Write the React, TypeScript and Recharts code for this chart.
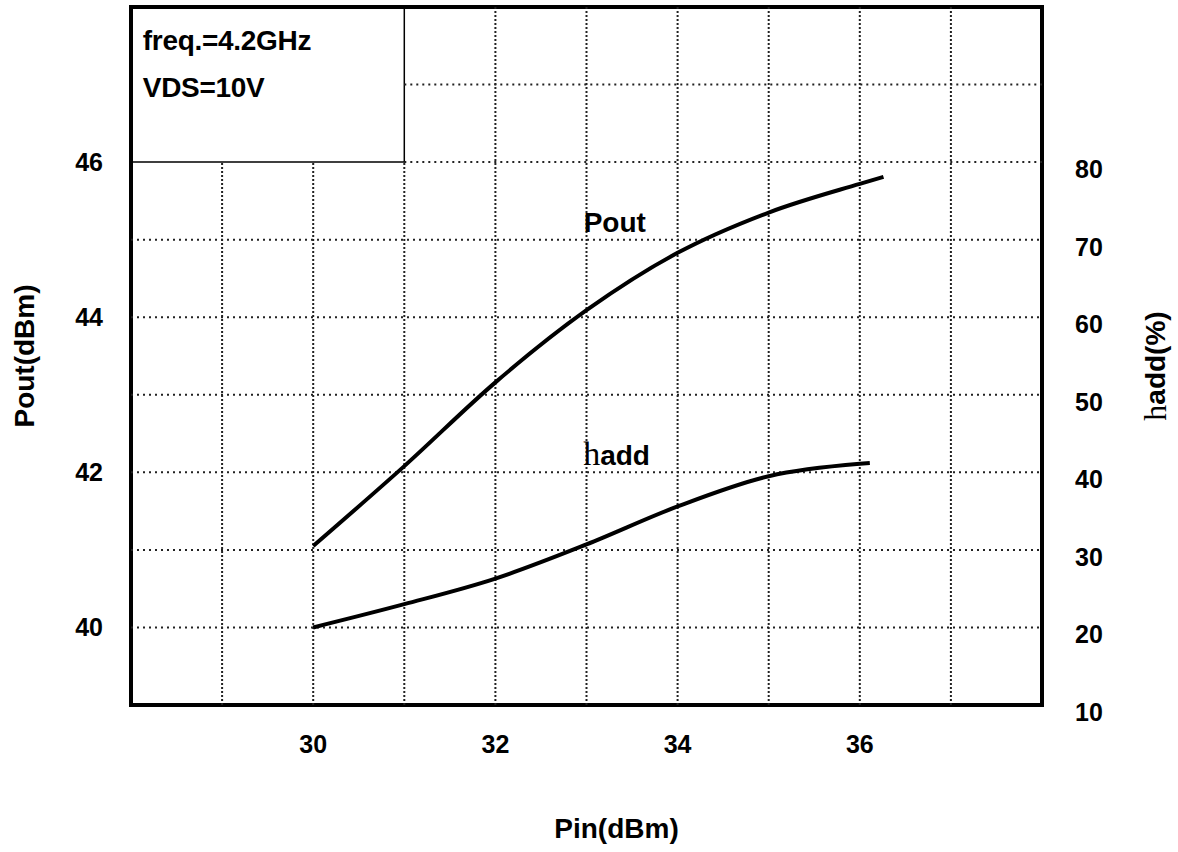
import { Line, LineChart, ReferenceArea, ReferenceDot, ReferenceLine, XAxis, YAxis } from "recharts";

// Pout vs Pin
const pinPout = [30, 31, 32, 33, 34, 35, 36, 36.26];
const poutDbm = [41.05, 42.08, 43.16, 44.09, 44.83, 45.35, 45.72, 45.81];

// added efficiency vs Pin (right axis, %)
const pinEta = [30, 31, 32, 33, 34, 35, 36, 36.11];
const etaAdd = [20.0, 23.0, 26.3, 30.7, 35.6, 39.5, 41.1, 41.2];

const xTicks = [30, 32, 34, 36];
const poutTicks = [40, 42, 44, 46];
const etaTicks = [10, 20, 30, 40, 50, 60, 70, 80];
const xGrid = [29, 30, 31, 32, 33, 34, 35, 36, 37];
const yGrid = [40, 41, 42, 43, 44, 45, 46, 47];
const notes = ["freq.=4.2GHz", "VDS=10V"];

// the note box sits in the top-left corner, grid lines stop at it
const boxX = [28, 31];
const boxY = [46, 48];

const SANS = "'Liberation Sans', Arial, Helvetica, sans-serif";
const SERIF = "'Liberation Serif', 'Times New Roman', serif";

const poutRows = pinPout.map((pin, i) => ({ pin, pout: poutDbm[i] }));
const etaRows = pinEta.map((pin, i) => ({ pin, eta: etaAdd[i] }));

const txt = { fontFamily: SANS, fontWeight: 700, fill: "#000" };

function LeftTick(p: any) {
  return (
    <text x={p.x} y={p.y} textAnchor="end" dominantBaseline="central" fontSize={25} {...txt}>
      {p.payload.value}
    </text>
  );
}

function RightTick(p: any) {
  return (
    <text x={p.x} y={p.y + 7} textAnchor="start" dominantBaseline="central" fontSize={25} {...txt}>
      {p.payload.value}
    </text>
  );
}

function BottomTick(p: any) {
  return (
    <text x={p.x} y={p.y} textAnchor="middle" fontSize={25} {...txt}>
      {p.payload.value}
    </text>
  );
}

export default function App() {
  return (
    <div style={{ position: "absolute", left: 0, top: 0, background: "#fff" }}>
      <LineChart width={1178} height={852} margin={{ top: 7, right: 0, bottom: 0, left: 0 }}>
        <XAxis
          dataKey="pin"
          type="number"
          domain={[28, 38]}
          ticks={xTicks}
          height={147}
          axisLine={false}
          tickLine={false}
          tickSize={0}
          tickMargin={48}
          tick={BottomTick}
          allowDataOverflow
          label={(props: any) => {
            const vb = props.viewBox;
            return (
              <text x={vb.x + vb.width / 2 + 30} y={vb.y + 133} textAnchor="middle" fontSize={28} {...txt}>
                Pin(dBm)
              </text>
            );
          }}
        />
        <YAxis
          yAxisId="left"
          type="number"
          domain={[39, 48]}
          ticks={poutTicks}
          width={131}
          axisLine={false}
          tickLine={false}
          tickSize={0}
          tickMargin={28}
          tick={LeftTick}
          allowDataOverflow
          label={(props: any) => {
            const vb = props.viewBox;
            const cx = vb.x + 24;
            const cy = vb.y + vb.height / 2;
            return (
              <text
                x={cx}
                y={cy}
                transform={`rotate(-90 ${cx} ${cy})`}
                textAnchor="middle"
                dominantBaseline="central"
                fontSize={28}
                {...txt}
              >
                Pout(dBm)
              </text>
            );
          }}
        />
        <YAxis
          yAxisId="right"
          orientation="right"
          type="number"
          domain={[10, 100]}
          ticks={etaTicks}
          width={136}
          axisLine={false}
          tickLine={false}
          tickSize={0}
          tickMargin={33}
          tick={RightTick}
          allowDataOverflow
          label={(props: any) => {
            const vb = props.viewBox;
            const cx = vb.x + 113;
            const cy = vb.y + vb.height / 2 + 10;
            return (
              <text
                x={cx}
                y={cy}
                transform={`rotate(-90 ${cx} ${cy})`}
                textAnchor="middle"
                dominantBaseline="central"
                fill="#000"
              >
                <tspan fontFamily={SERIF} fontSize={32}>h</tspan>
                <tspan fontFamily={SANS} fontWeight={700} fontSize={28}>add(%)</tspan>
              </text>
            );
          }}
        />

        <ReferenceArea
          yAxisId="left"
          x1={boxX[0]}
          x2={boxX[1]}
          y1={boxY[0]}
          y2={boxY[1]}
          fill="#fff"
          fillOpacity={1}
          stroke="#000"
          strokeWidth={1.5}
        />

        {xGrid.map((v) => (
          <ReferenceLine
            key={`gx${v}`}
            yAxisId="left"
            segment={[
              { x: v, y: 39 },
              { x: v, y: v <= boxX[1] ? boxY[0] : 48 },
            ]}
            stroke="#222"
            strokeWidth={2}
            strokeDasharray="2 2"
          />
        ))}
        {yGrid.map((v) => (
          <ReferenceLine
            key={`gy${v}`}
            yAxisId="left"
            segment={[
              { x: v >= boxY[0] ? boxX[1] : 28, y: v },
              { x: 38, y: v },
            ]}
            stroke="#222"
            strokeWidth={2}
            strokeDasharray="2 4"
          />
        ))}

        <Line
          data={poutRows}
          dataKey="pout"
          yAxisId="left"
          type="monotone"
          stroke="#000"
          strokeWidth={4}
          dot={false}
          activeDot={false}
          isAnimationActive={false}
        />
        <Line
          data={etaRows}
          dataKey="eta"
          yAxisId="right"
          type="monotone"
          stroke="#000"
          strokeWidth={4}
          dot={false}
          activeDot={false}
          isAnimationActive={false}
        />

        <ReferenceArea yAxisId="left" x1={28} x2={38} y1={39} y2={48} fill="none" stroke="#000" strokeWidth={4} />

        <ReferenceDot
          yAxisId="left"
          x={28.13}
          y={47.445}
          r={1}
          shape={(p: any) => (
            <text x={p.cx} y={p.cy} fontSize={28} letterSpacing={-0.3} {...txt}>
              {notes[0]}
            </text>
          )}
        />
        <ReferenceDot
          yAxisId="left"
          x={28.13}
          y={46.84}
          r={1}
          shape={(p: any) => (
            <text x={p.cx} y={p.cy} fontSize={28} letterSpacing={-0.3} {...txt}>
              {notes[1]}
            </text>
          )}
        />
        <ReferenceDot
          yAxisId="left"
          x={33.31}
          y={45.1}
          r={1}
          shape={(p: any) => (
            <text x={p.cx} y={p.cy} textAnchor="middle" fontSize={28} {...txt}>
              Pout
            </text>
          )}
        />
        <ReferenceDot
          yAxisId="left"
          x={33.33}
          y={42.09}
          r={1}
          shape={(p: any) => (
            <text x={p.cx} y={p.cy} textAnchor="middle" fill="#000">
              <tspan fontFamily={SERIF} fontSize={34}>h</tspan>
              <tspan fontFamily={SANS} fontWeight={700} fontSize={28}>add</tspan>
            </text>
          )}
        />
      </LineChart>
    </div>
  );
}
